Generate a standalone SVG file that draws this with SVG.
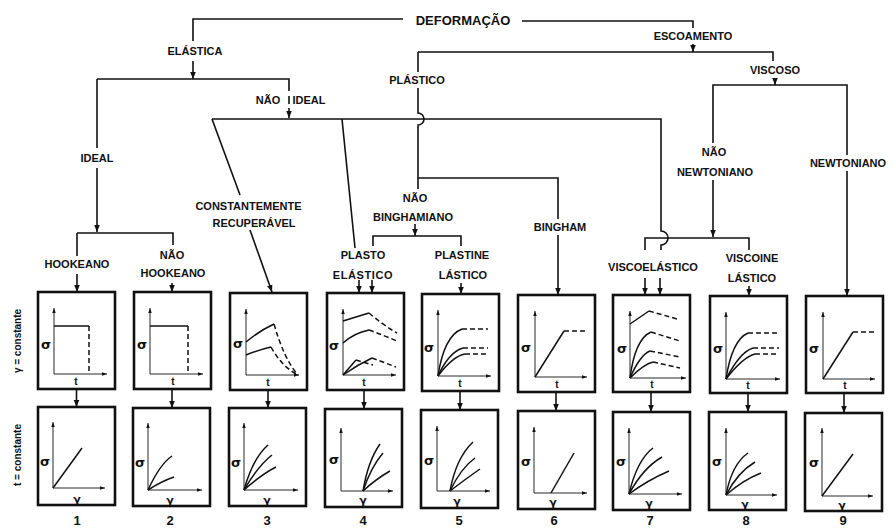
<svg xmlns="http://www.w3.org/2000/svg" width="893" height="529" viewBox="0 0 893 529">
<defs>
<style>
.c{fill:none;stroke:#111;stroke-width:1.6}
.a{marker-end:url(#ah)}
.box{fill:#fff;stroke:#111;stroke-width:2.6}
.ax{fill:none;stroke:#111;stroke-width:0.9;marker-end:url(#sa)}
.cv{fill:none;stroke:#111;stroke-width:1.5}
.ds{stroke-dasharray:5 3}
text{font-family:"Liberation Sans",Arial,sans-serif;font-weight:bold;fill:#111}
.l{font-size:11px;text-anchor:middle}
.sg{font-family:"DejaVu Sans",sans-serif;font-size:13px;text-anchor:middle}
.tt{font-size:10px;text-anchor:middle}
.gm{font-family:"DejaVu Sans",sans-serif;font-size:11px;text-anchor:middle}
.n{font-size:13px;text-anchor:middle}
.sd{font-size:10px;text-anchor:middle}
</style>
<marker id="ah" markerUnits="userSpaceOnUse" markerWidth="7" markerHeight="7" viewBox="0 0 10 10" refX="10" refY="5" orient="auto"><path d="M0,1 L10,5 L0,9 z" fill="#111"/></marker>
<marker id="sa" markerUnits="userSpaceOnUse" markerWidth="5" markerHeight="5" viewBox="0 0 10 10" refX="10" refY="5" orient="auto"><path d="M0,1.5 L10,5 L0,8.5 z" fill="#111"/></marker>
</defs>
<rect width="893" height="529" fill="#fff"/>

<g id="connectors" class="c">
<path d="M403,19 H193 V41"/>
<path class="a" d="M193,61 V79"/>
<path d="M522,21 H693 V28"/>
<path class="a" d="M693,44 V52"/>
<path d="M97,79 H289 V91"/>
<path d="M289,96 V104"/>
<path class="a" d="M289,108 V118"/>
<path d="M97,79 V148"/>
<path class="a" d="M97,168 V232"/>
<path d="M77,233 H173 V245"/>
<path d="M77,233 V256"/>
<path class="a" d="M77,274 V292"/>
<path class="a" d="M172,283 V292"/>
<path d="M212,119 H661 V231 A7,7 0 0 1 661,245 V250"/>
<path d="M212,119 L240,195"/>
<path class="a" d="M250,230 L272,292"/>
<path d="M342,119 L355,248"/>
<path class="a" d="M359,280 V293"/>
<path d="M418,52 H773 V61"/>
<path class="a" d="M775,78 V85"/>
<path d="M418,52 V72"/>
<path d="M418,88 V113 A6,6 0 0 1 418,125 V189"/>
<path d="M418,178 H558 V219"/>
<path class="a" d="M558,235 V295"/>
<path class="a" d="M415,224 V236"/>
<path d="M373,246 V236 H461 V246"/>
<path class="a" d="M372,280 V293"/>
<path class="a" d="M461,283 V294"/>
<path d="M713,143 V85 H847 V155"/>
<path class="a" d="M847,171 V296"/>
<path class="a" d="M713,180 V237"/>
<path d="M645,250 V238 H749 V250"/>
<path class="a" d="M645,278 V295"/>
<path class="a" d="M660,278 V295"/>
<path class="a" d="M749,286 V296"/>
<path class="a" d="M76.5,389 V407"/>
<path class="a" d="M172,389 V408"/>
<path class="a" d="M268,390 V408"/>
<path class="a" d="M364,390 V409"/>
<path class="a" d="M460,391 V410"/>
<path class="a" d="M556,392 V411"/>
<path class="a" d="M651,392 V412"/>
<path class="a" d="M748,393 V412"/>
<path class="a" d="M844,393 V413"/>
</g>

<g id="deformacao"><text x="463" y="24.5" style="font-size:13px;text-anchor:middle">DEFORMAÇÃO</text></g>
<g id="elastica"><text class="l" x="195" y="55">ELÁSTICA</text></g>
<g id="escoamento"><text class="l" x="693" y="40">ESCOAMENTO</text></g>
<g id="plastico"><text class="l" x="417" y="84">PLÁSTICO</text></g>
<g id="viscoso"><text class="l" x="775" y="74">VISCOSO</text></g>
<g id="nao-ideal"><text class="l" x="268" y="104">NÃO</text><text class="l" x="309" y="104">IDEAL</text></g>
<g id="ideal"><text class="l" x="97" y="162">IDEAL</text></g>
<g id="constantemente-recuperavel"><text class="l" x="248.5" y="210">CONSTANTEMENTE</text><text class="l" x="254" y="227">RECUPERÁVEL</text></g>
<g id="hookeano"><text class="l" x="77" y="268">HOOKEANO</text></g>
<g id="nao-hookeano"><text class="l" x="172" y="259">NÃO</text><text class="l" x="173" y="277">HOOKEANO</text></g>
<g id="nao-binghamiano"><text class="l" x="415" y="202">NÃO</text><text class="l" x="413" y="221">BINGHAMIANO</text></g>
<g id="plasto-elastico"><text class="l" x="363" y="259">PLASTO</text><text class="l" x="363" y="279" style="letter-spacing:0.6px">ELÁSTICO</text></g>
<g id="plastine-lastico"><text class="l" x="462" y="259">PLASTINE</text><text class="l" x="463" y="279">LÁSTICO</text></g>
<g id="bingham"><text class="l" x="560" y="231">BINGHAM</text></g>
<g id="nao-newtoniano"><text class="l" x="714" y="156">NÃO</text><text class="l" x="715" y="176">NEWTONIANO</text></g>
<g id="newtoniano"><text class="l" x="848" y="167">NEWTONIANO</text></g>
<g id="viscoelastico"><text class="l" x="653" y="271">VISCOELÁSTICO</text></g>
<g id="viscoinelastico"><text class="l" x="752" y="262">VISCOINE</text><text class="l" x="752" y="282">LÁSTICO</text></g>

<g id="side-labels">
<text class="sd" transform="translate(21,341) rotate(-90)">γ = constante</text>
<text class="sd" transform="translate(21,455) rotate(-90)">t = constante</text>
</g>

<!-- top row: stress vs time -->
<g id="top1" transform="translate(38,292)">
<rect class="box" width="77" height="97"/>
<path class="ax" d="M16,82 V16"/><path class="ax" d="M16,82 H69"/>
<path class="cv" d="M16,34 H51"/><path class="cv ds" d="M51,34 V82"/>
<text class="sg" x="8" y="57">σ</text><text class="tt" x="38" y="93">t</text>
</g>
<g id="top2" transform="translate(134,292)">
<rect class="box" width="77" height="97"/>
<path class="ax" d="M16,82 V16"/><path class="ax" d="M16,82 H69"/>
<path class="cv" d="M16,34 H54"/><path class="cv ds" d="M54,34 V82"/>
<text class="sg" x="8" y="57">σ</text><text class="tt" x="39" y="93">t</text>
</g>
<g id="top3" transform="translate(230,293)">
<rect class="box" width="77" height="97"/>
<path class="ax" d="M16,82 V16"/><path class="ax" d="M16,82 H69"/>
<path class="cv" d="M16,49 Q29,38 44,31"/><path class="cv ds" d="M44,31 Q54,66 68,82"/>
<path class="cv" d="M16,62 Q28,57 41,54"/><path class="cv ds" d="M41,54 Q52,74 68,82"/>
<text class="sg" x="8" y="55">σ</text><text class="tt" x="38" y="93">t</text>
</g>
<g id="top4" transform="translate(327,293)">
<rect class="box" width="77" height="97"/>
<path class="ax" d="M16,82 V16"/><path class="ax" d="M16,82 H69"/>
<path class="cv" d="M16,28 L42,20"/><path class="cv ds" d="M42,20 Q56,32 70,40"/>
<path class="cv" d="M16,50 Q27,40 42,37"/><path class="cv ds" d="M42,37 Q56,42 70,48"/>
<path class="cv" d="M16,82 L29,67"/><path class="cv ds" d="M29,67 L46,72"/>
<path class="cv" d="M16,82 Q30,72 45,65"/><path class="cv ds" d="M45,65 L69,74"/>
<text class="sg" x="7" y="57">σ</text><text class="tt" x="37" y="93">t</text>
</g>
<g id="top5" transform="translate(422,294)">
<rect class="box" width="77" height="97"/>
<path class="ax" d="M16,82 V16"/><path class="ax" d="M16,82 H69"/>
<path class="cv" d="M16,82 Q22,42 40,35"/><path class="cv ds" d="M40,35 H66"/>
<path class="cv" d="M16,82 Q27,58 41,54"/><path class="cv ds" d="M41,54 H66"/>
<path class="cv" d="M16,82 Q31,62 43,60"/><path class="cv ds" d="M43,60 H66"/>
<text class="sg" x="7" y="58">σ</text><text class="tt" x="38" y="93">t</text>
</g>
<g id="top6" transform="translate(518,295)">
<rect class="box" width="77" height="97"/>
<path class="ax" d="M17,82 V16"/><path class="ax" d="M17,82 H69"/>
<path class="cv" d="M17,82 L46,36"/><path class="cv ds" d="M46,36 H70"/>
<text class="sg" x="8" y="57">σ</text><text class="tt" x="39" y="93">t</text>
</g>
<g id="top7" transform="translate(613,295)">
<rect class="box" width="77" height="97"/>
<path class="ax" d="M17,83 V16"/><path class="ax" d="M17,83 H73"/>
<path class="cv" d="M17,29 L36,16"/><path class="cv ds" d="M36,16 L64,24"/>
<path class="cv" d="M17,83 Q22,44 38,37"/><path class="cv ds" d="M38,37 L67,46"/>
<path class="cv" d="M17,83 Q27,60 37,56"/><path class="cv ds" d="M37,56 L67,62"/>
<path class="cv" d="M17,83 Q31,69 40,67"/><path class="cv ds" d="M40,67 L67,73"/>
<text class="sg" x="9" y="58">σ</text><text class="tt" x="39" y="93">t</text>
</g>
<g id="top8" transform="translate(710,296)">
<rect class="box" width="77" height="97"/>
<path class="ax" d="M16,83 V16"/><path class="ax" d="M16,83 H70"/>
<path class="cv" d="M16,83 Q22,44 38,37"/><path class="cv ds" d="M38,37 H69"/>
<path class="cv" d="M16,83 Q30,56 43,52"/><path class="cv ds" d="M43,52 H69"/>
<path class="cv" d="M16,83 Q33,61 45,58"/><path class="cv ds" d="M45,58 H69"/>
<text class="sg" x="8" y="57">σ</text><text class="tt" x="38" y="93">t</text>
</g>
<g id="top9" transform="translate(806,296)">
<rect class="box" width="77" height="97"/>
<path class="ax" d="M17,83 V16"/><path class="ax" d="M17,83 H69"/>
<path class="cv" d="M17,83 L47,36"/><path class="cv ds" d="M47,36 H71"/>
<text class="sg" x="8" y="57">σ</text><text class="tt" x="39" y="93">t</text>
</g>

<!-- bottom row: stress vs strain -->
<g id="bot1" transform="translate(38,407)">
<rect class="box" width="77" height="98"/>
<path class="ax" d="M15,81 V15"/><path class="ax" d="M15,81 H67"/>
<path class="cv" d="M15,81 L44,41"/>
<text class="sg" x="7" y="59">σ</text><text class="gm" x="39" y="96">γ</text>
</g>
<g id="bot2" transform="translate(133,408)">
<rect class="box" width="77" height="98"/>
<path class="ax" d="M15,82 V15"/><path class="ax" d="M15,82 H69"/>
<path class="cv" d="M15,82 Q27,56 39,48"/><path class="cv" d="M15,82 Q29,73 41,69"/>
<text class="sg" x="7" y="59">σ</text><text class="gm" x="37" y="96">γ</text>
</g>
<g id="bot3" transform="translate(229,408)">
<rect class="box" width="77" height="98"/>
<path class="ax" d="M15,82 V15"/><path class="ax" d="M15,82 H69"/>
<path class="cv" d="M15,82 Q24,50 39,37"/><path class="cv" d="M15,82 Q29,58 43,47"/><path class="cv" d="M15,82 Q33,66 47,59"/>
<text class="sg" x="7" y="59">σ</text><text class="gm" x="38" y="96">γ</text>
</g>
<g id="bot4" transform="translate(325,409)">
<rect class="box" width="77" height="98"/>
<path class="ax" d="M16,82 V19"/><path class="ax" d="M16,82 H68"/>
<path class="cv" d="M38,82 Q43,52 55,35"/><path class="cv" d="M38,82 Q46,58 58,44"/><path class="cv" d="M38,82 Q51,70 65,62"/>
<text class="sg" x="9" y="55">σ</text><text class="gm" x="38" y="95">γ</text>
</g>
<g id="bot5" transform="translate(421,410)">
<rect class="box" width="77" height="98"/>
<path class="ax" d="M16,81 V16"/><path class="ax" d="M16,81 H69"/>
<path class="cv" d="M29,81 Q35,48 52,32"/><path class="cv" d="M29,81 Q40,58 54,48"/><path class="cv" d="M29,81 Q46,68 59,59"/>
<text class="sg" x="8" y="55">σ</text><text class="gm" x="36" y="95">γ</text>
</g>
<g id="bot6" transform="translate(518,411)">
<rect class="box" width="77" height="98"/>
<path class="ax" d="M16,82 V16"/><path class="ax" d="M16,82 H69"/>
<path class="cv" d="M33,82 L56,42"/>
<text class="sg" x="8" y="55">σ</text><text class="gm" x="35" y="95">γ</text>
</g>
<g id="bot7" transform="translate(613,412)">
<rect class="box" width="77" height="98"/>
<path class="ax" d="M16,82 V16"/><path class="ax" d="M16,82 H69"/>
<path class="cv" d="M16,82 Q24,48 40,36"/><path class="cv" d="M16,82 Q30,56 49,45"/><path class="cv" d="M16,82 Q35,68 56,59"/>
<text class="sg" x="8" y="54">σ</text><text class="gm" x="36" y="95">γ</text>
</g>
<g id="bot8" transform="translate(709,412)">
<rect class="box" width="77" height="98"/>
<path class="ax" d="M17,83 V16"/><path class="ax" d="M17,83 H68"/>
<path class="cv" d="M17,83 Q23,52 39,41"/><path class="cv" d="M17,83 Q29,60 46,50"/><path class="cv" d="M17,83 Q34,68 52,61"/>
<text class="sg" x="8" y="54">σ</text><text class="gm" x="36" y="96">γ</text>
</g>
<g id="bot9" transform="translate(805,413)">
<rect class="box" width="77" height="98"/>
<path class="ax" d="M17,83 V15"/><path class="ax" d="M17,83 H68"/>
<path class="cv" d="M17,83 L48,41"/>
<text class="sg" x="9" y="54">σ</text><text class="gm" x="37" y="96">γ</text>
</g>

<g id="numbers">
<text class="n" x="77" y="525">1</text>
<text class="n" x="170" y="525">2</text>
<text class="n" x="267" y="525">3</text>
<text class="n" x="363" y="525">4</text>
<text class="n" x="459" y="525">5</text>
<text class="n" x="554" y="525">6</text>
<text class="n" x="650" y="525">7</text>
<text class="n" x="746" y="525">8</text>
<text class="n" x="843" y="525">9</text>
</g>
</svg>
